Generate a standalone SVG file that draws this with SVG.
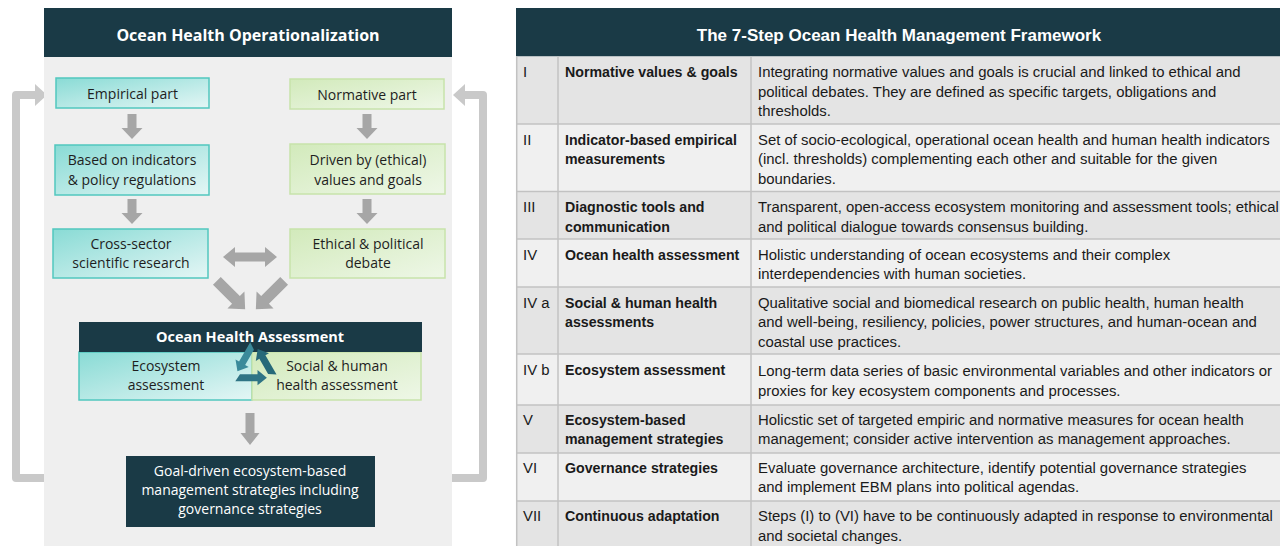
<svg xmlns="http://www.w3.org/2000/svg" width="1280" height="546" viewBox="0 0 1280 546">
<defs>
<linearGradient id="gTeal" x1="0" y1="0" x2="1" y2="1">
<stop offset="0" stop-color="#89dbd5"/><stop offset="1" stop-color="#e4f6f5"/>
</linearGradient>
<linearGradient id="gGreen" x1="0" y1="0" x2="1" y2="1">
<stop offset="0" stop-color="#d2eabb"/><stop offset="1" stop-color="#eef7e7"/>
</linearGradient>
<path id="dn" d="M-4.5 0 H4.5 V14 H10.5 L0 25 L-10.5 14 H-4.5 Z"/>
<path id="dg" d="M-5.5 -20 H5.5 V7 H12 L0 20 L-12 7 H-5.5 Z"/>
<path id="rc" d="M-12 7 L3 7 L3 3.5 L11 10 L3 16.5 L3 13 L-16 13 Z"/>
<style>
.hdr{fill:#1a3a46}
.teal{fill:url(#gTeal);stroke:#52c7bf;stroke-width:1.5}
.green{fill:url(#gGreen);stroke:#c7e3ab;stroke-width:1.5}
.blk{fill:#a6a6a6}
.loop{fill:none;stroke:#c9c9c9;stroke-width:8;stroke-linejoin:round}
.loophd{fill:#c9c9c9}
.lt{font-family:"Open Sans","Noto Sans",sans-serif;font-size:14px;fill:#1e1e1e;text-anchor:middle}
.lw{font-family:"Open Sans","Noto Sans",sans-serif;font-size:14px;fill:#ffffff;text-anchor:middle}
.lwb{font-family:"Open Sans","Noto Sans",sans-serif;font-weight:bold;fill:#ffffff;text-anchor:middle}
.twb{font-family:"Liberation Sans",Arial,sans-serif;font-weight:bold;fill:#ffffff;text-anchor:middle}
.tt{font-family:"Liberation Sans",Arial,sans-serif;font-size:14.9px;fill:#1a1a1a}
.tb{font-family:"Liberation Sans",Arial,sans-serif;font-size:14.2px;font-weight:bold;fill:#1a1a1a}
.rd{fill:#e4e4e4}
.rl{fill:#f0f0f0}
.ln{stroke:#c2c2c2;stroke-width:1.5;fill:none}
</style>
</defs>
<rect width="1280" height="546" fill="#ffffff"/>

<g id="loops">
<path class="loop" d="M46 478 H16 V95 H36"/>
<polygon class="loophd" points="35,84 47,95 35,106"/>
<path class="loop" d="M450 478 H483 V95 H464"/>
<polygon class="loophd" points="465,84 453,95 465,106"/>
</g>

<g id="panel">
<rect x="44" y="57" width="408" height="489" fill="#efefef"/>
<rect class="hdr" x="44" y="8" width="408" height="49"/>
<text class="lwb" x="248" y="41" font-size="16">Ocean Health Operationalization</text>
</g>

<g id="empirical">
<rect class="teal" x="56" y="78" width="153" height="30"/>
<text class="lt" x="132.5" y="99">Empirical part</text>
</g>
<g id="normative">
<rect class="green" x="290" y="79" width="154" height="30"/>
<text class="lt" x="367" y="100">Normative part</text>
</g>
<g id="indicators">
<rect class="teal" x="55" y="145" width="154" height="50"/>
<text class="lt" x="132" y="165">Based on indicators<tspan x="132" y="184.5">&amp; policy regulations</tspan></text>
</g>
<g id="values">
<rect class="green" x="290" y="144" width="155" height="50"/>
<text class="lt" x="368" y="165">Driven by (ethical)<tspan x="368" y="184.5">values and goals</tspan></text>
</g>
<g id="research">
<rect class="teal" x="53" y="229" width="155" height="49"/>
<text class="lt" x="131" y="249">Cross-sector<tspan x="131" y="268">scientific research</tspan></text>
</g>
<g id="debate">
<rect class="green" x="290" y="229" width="155" height="49"/>
<text class="lt" x="368" y="249">Ethical &amp; political<tspan x="368" y="268">debate</tspan></text>
</g>

<g id="assessment">
<rect class="teal" x="79" y="352" width="173" height="48"/>
<rect class="green" x="252" y="352" width="169" height="48"/>
<rect class="hdr" x="79" y="322" width="343" height="30"/>
<text class="lwb" x="250" y="342" font-size="14.5">Ocean Health Assessment</text>
<text class="lt" x="166" y="370.5">Ecosystem<tspan x="166" y="390">assessment</tspan></text>
<text class="lt" x="337" y="370.5">Social &amp; human<tspan x="337" y="390">health assessment</tspan></text>
<g id="recycle" transform="translate(254,366) scale(1.17)">
<use href="#rc" fill="#2f7485"/>
<use href="#rc" fill="#3b8a9a" transform="rotate(120)"/>
<use href="#rc" fill="#276979" transform="rotate(240)"/>
</g>
</g>

<g id="strategies">
<rect class="hdr" x="126" y="456" width="249" height="71"/>
<text class="lw" x="250" y="476">Goal-driven ecosystem-based<tspan x="250" y="495">management strategies including</tspan><tspan x="250" y="514">governance strategies</tspan></text>
</g>

<g id="connectors">
<use href="#dn" class="blk" x="132" y="114"/>
<use href="#dn" class="blk" x="367" y="114"/>
<use href="#dn" class="blk" x="132" y="199"/>
<use href="#dn" class="blk" x="367" y="199"/>
<path class="blk" d="M223 257 L235 247 V252.5 H265 V247 L277 257 L265 267 V261.5 H235 V267 Z"/>
<use href="#dg" class="blk" transform="translate(231,295) rotate(-45)"/>
<use href="#dg" class="blk" transform="translate(270,295) rotate(45)"/>
<path class="blk" d="M245.5 413 H254.5 V433 H259.5 L250 445 L240.5 433 H245.5 Z"/>
</g>

<g id="table">
<rect class="hdr" x="516" y="8" width="764" height="48.5"/>
<text class="twb" x="899" y="41" font-size="17">The 7-Step Ocean Health Management Framework</text>
<rect class="rd" x="516" y="56.5" width="764" height="67.5"/>
<rect class="rl" x="516" y="124" width="764" height="67.5"/>
<rect class="rd" x="516" y="191.5" width="764" height="47.5"/>
<rect class="rl" x="516" y="239" width="764" height="48"/>
<rect class="rd" x="516" y="287" width="764" height="67"/>
<rect class="rl" x="516" y="354" width="764" height="51"/>
<rect class="rd" x="516" y="405" width="764" height="48"/>
<rect class="rl" x="516" y="453" width="764" height="48"/>
<rect class="rd" x="516" y="501" width="764" height="45"/>
<path class="ln" d="M516 124 H1280 M516 191.5 H1280 M516 239 H1280 M516 287 H1280 M516 354 H1280 M516 405 H1280 M516 453 H1280 M516 501 H1280 M516.7 56.5 V546 M558 56.5 V546 M751 56.5 V546"/>

<g id="row1">
<text class="tt" x="523" y="77">I</text>
<text class="tb" x="565" y="77">Normative values &amp; goals</text>
<text class="tt" x="758" y="77">Integrating normative values and goals is crucial and linked to ethical and<tspan x="758" y="96.5">political debates. They are defined as specific targets, obligations and</tspan><tspan x="758" y="116">thresholds.</tspan></text>
</g>
<g id="row2">
<text class="tt" x="523" y="144.5">II</text>
<text class="tb" x="565" y="144.5">Indicator-based empirical<tspan x="565" y="164">measurements</tspan></text>
<text class="tt" x="758" y="144.5">Set of socio-ecological, operational ocean health and human health indicators<tspan x="758" y="164">(incl. thresholds) complementing each other and suitable for the given</tspan><tspan x="758" y="183.5">boundaries.</tspan></text>
</g>
<g id="row3">
<text class="tt" x="523" y="212">III</text>
<text class="tb" x="565" y="212">Diagnostic tools and<tspan x="565" y="231.5">communication</tspan></text>
<text class="tt" x="758" y="212">Transparent, open-access ecosystem monitoring and assessment tools; ethical<tspan x="758" y="231.5">and political dialogue towards consensus building.</tspan></text>
</g>
<g id="row4">
<text class="tt" x="523" y="259.5">IV</text>
<text class="tb" x="565" y="259.5">Ocean health assessment</text>
<text class="tt" x="758" y="259.5">Holistic understanding of ocean ecosystems and their complex<tspan x="758" y="279">interdependencies with human societies.</tspan></text>
</g>
<g id="row4a">
<text class="tt" x="523" y="307.5">IV a</text>
<text class="tb" x="565" y="307.5">Social &amp; human health<tspan x="565" y="327">assessments</tspan></text>
<text class="tt" x="758" y="307.5">Qualitative social and biomedical research on public health, human health<tspan x="758" y="327">and well-being, resiliency, policies, power structures, and human-ocean and</tspan><tspan x="758" y="346.5">coastal use practices.</tspan></text>
</g>
<g id="row4b">
<text class="tt" x="523" y="375">IV b</text>
<text class="tb" x="565" y="375">Ecosystem assessment</text>
<text class="tt" x="758" y="376">Long-term data series of basic environmental variables and other indicators or<tspan x="758" y="396">proxies for key ecosystem components and processes.</tspan></text>
</g>
<g id="row5">
<text class="tt" x="523" y="424.5">V</text>
<text class="tb" x="565" y="424.5">Ecosystem-based<tspan x="565" y="444">management strategies</tspan></text>
<text class="tt" x="758" y="424.5">Holicstic set of targeted empiric and normative measures for ocean health<tspan x="758" y="444">management; consider active intervention as management approaches.</tspan></text>
</g>
<g id="row6">
<text class="tt" x="523" y="472.5">VI</text>
<text class="tb" x="565" y="472.5">Governance strategies</text>
<text class="tt" x="758" y="472.5">Evaluate governance architecture, identify potential governance strategies<tspan x="758" y="492">and implement EBM plans into political agendas.</tspan></text>
</g>
<g id="row7">
<text class="tt" x="523" y="521">VII</text>
<text class="tb" x="565" y="521">Continuous adaptation</text>
<text class="tt" x="758" y="521">Steps (I) to (VI) have to be continuously adapted in response to environmental<tspan x="758" y="540.5">and societal changes.</tspan></text>
</g>
</g>
</svg>
